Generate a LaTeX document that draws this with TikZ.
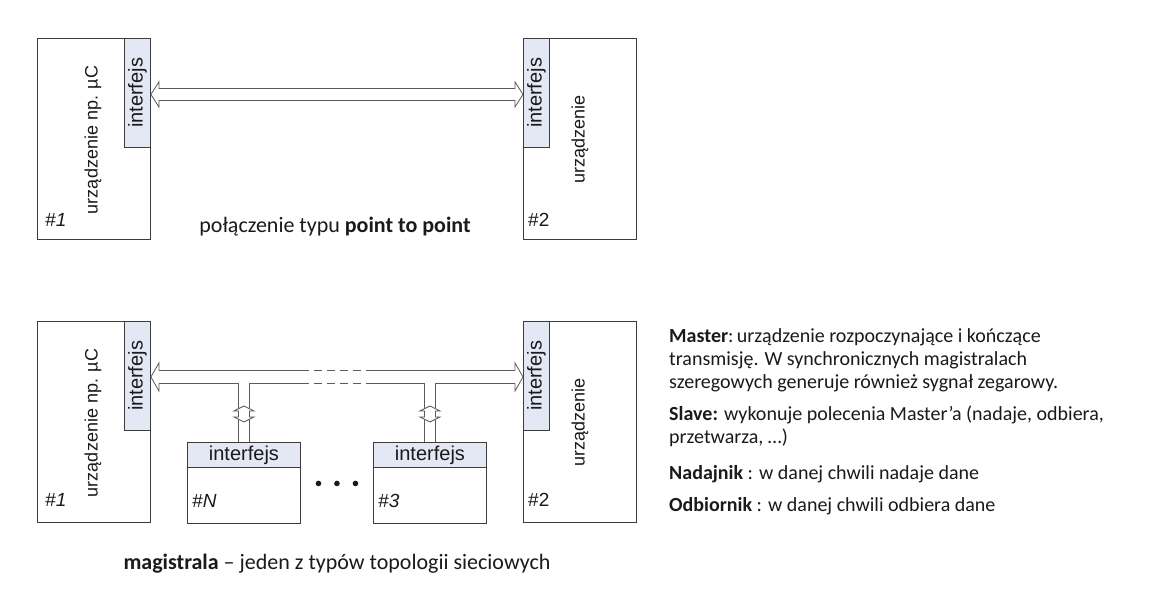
\documentclass[tikz,border=0pt]{standalone}
\usepackage{fontspec}
\setmainfont{Carlito}
\newfontfamily\arial{Liberation Sans}
\usetikzlibrary{calc}
\definecolor{ifcfill}{HTML}{E4E8F5}
\definecolor{linec}{HTML}{5A5A5A}
\definecolor{boxc}{HTML}{3C3C3C}
\definecolor{txtc}{HTML}{1A1A1A}
\begin{document}
\begin{tikzpicture}[x=1pt,y=-1pt,
  dev/.style={draw=boxc, line width=0.9pt, fill=white, anchor=north west, minimum width=113pt, minimum height=201pt, inner sep=0pt},
  ifcv/.style={draw=boxc, line width=0.9pt, fill=ifcfill, minimum width=26pt, minimum height=109pt, inner sep=0pt},
  slavebox/.style={draw=boxc, line width=0.9pt, fill=white, anchor=north west, minimum width=113pt, minimum height=81pt, inner sep=0pt},
  ifch/.style={draw=boxc, line width=0.9pt, fill=ifcfill, anchor=north, minimum width=113pt, minimum height=25pt, inner sep=0pt, font=\arial\fontsize{20}{22}\selectfont, text=txtc},
  ifctext/.style={rotate=90, font=\arial\fontsize{20}{22}\selectfont, text=txtc, inner sep=0pt},
  devtext/.style={rotate=90, font=\arial\fontsize{18}{20}\selectfont, text=txtc, inner sep=0pt},
  numtext/.style={anchor=base west, font=\arial\fontsize{19}{21}\selectfont, text=txtc, inner sep=0pt},
  arr/.style={draw=linec, line width=0.8pt, fill=white, line join=miter},
  busline/.style={draw=linec, line width=0.8pt},
  busdash/.style={draw=linec, line width=0.8pt, dash pattern=on 8pt off 5pt},
  caption/.style={font=\fontsize{22}{26}\selectfont, text=txtc, inner sep=0pt},
  desc/.style={anchor=base west, align=left, font=\fontsize{20}{23}\selectfont, text=txtc, inner sep=0pt},
]
\useasboundingbox (0,0) rectangle (1152,607);
\fill[white] (0,0) rectangle (1152,607);

% ---------------- top: point to point ----------------
\node[dev] (d1) at (37,38) {};
\node[ifcv, anchor=north east] (i1) at (d1.north east) {};
\node[ifctext] at (i1.center) {interfejs};
\node[devtext] at ($(d1.center)+(-1,1)$) {urządzenie np. µC};
\node[numtext] at ($(d1.south west)+(8,-13.5)$) {\itshape\#1};

\node[dev] (d2) at (523,38) {};
\node[ifcv, anchor=north west] (i2) at (d2.north west) {};
\node[ifctext] at (i2.center) {interfejs};
\node[devtext] at ($(d2.center)+(0,1)$) {urządzenie};
\node[numtext] at ($(d2.south west)+(5,-13.5)$) {\#2};

\coordinate (tl) at ($(i1.east)+(0,1.5)$);
\coordinate (tr) at ($(i2.west)+(0,1.5)$);
\draw[arr] (tl) -- ++(8,-12.5) -- ++(0,6.5) -- ($(tr)+(-8,-6)$) -- ++(0,-6.5) -- (tr)
  -- ++(-8,12.5) -- ++(0,-6.5) -- ($(tl)+(8,6)$) -- ++(0,6.5) -- cycle;

\node[caption] (cap1) at (335,227) {połączenie typu \textbf{point to point}};

% ---------------- bottom: bus ----------------
\node[dev] (d3) at (37,321) {};
\node[ifcv, anchor=north east] (i3) at (d3.north east) {};
\node[ifctext] at (i3.center) {interfejs};
\node[devtext] at ($(d3.center)+(-1,1)$) {urządzenie np. µC};
\node[numtext] at ($(d3.south west)+(8,-16.5)$) {\itshape\#1};

\node[dev] (d4) at (523,321) {};
\node[ifcv, anchor=north west] (i4) at (d4.north west) {};
\node[ifctext] at (i4.center) {interfejs};
\node[devtext] at ($(d4.center)+(0,1)$) {urządzenie};
\node[numtext] at ($(d4.south west)+(5,-16.5)$) {\#2};

\node[slavebox] (sN) at (187,442) {};
\node[ifch] (hN) at (sN.north) {interfejs};
\node[numtext] at ($(sN.south west)+(5,-16.5)$) {\itshape\#N};

\node[slavebox] (s3) at (373,442) {};
\node[ifch] (h3) at (s3.north) {interfejs};
\node[numtext] at ($(s3.south west)+(5,-16.5)$) {\itshape\#3};

% dots
\coordinate (mid) at ($(sN.center)!0.5!(s3.center)$);
\foreach \dx in {-18.5,0,18.5} \fill[txtc] ($(mid)+(\dx,0.5)$) circle (2.8pt);

% bus
\coordinate (bl) at ($(i3.east)+(0,1)$);
\coordinate (br) at ($(i4.west)+(0,1)$);
\coordinate (blt) at ($(bl)+(8,-6.5)$);
\coordinate (blb) at ($(bl)+(8,6.5)$);
\coordinate (brt) at ($(br)+(-8,-6.5)$);
\coordinate (brb) at ($(br)+(-8,6.5)$);
\coordinate (jN) at (hN.north);
\coordinate (j3) at (h3.north);
% arrow heads
\draw[arr, fill=none] (blt) -- ++(0,-7.5) -- (bl) -- ++(8,14) -- (blb);
\draw[arr, fill=none] (brt) -- ++(0,-7.5) -- (br) -- ++(-8,14) -- (brb);
% top line
\draw[busline] (blt) -- (blt -| sN.east);
\draw[busdash] (blt -| sN.east) -- (blt -| s3.west);
\draw[busline] (blt -| s3.west) -- (brt);
% bottom line
\draw[busline] (blb) -- ($(blb -| jN)+(-5.5,0)$);
\draw[busline] ($(blb -| jN)+(5.5,0)$) -- (blb -| sN.east);
\draw[busdash] (blb -| sN.east) -- (blb -| s3.west);
\draw[busline] (blb -| s3.west) -- ($(blb -| j3)+(-5.5,0)$);
\draw[busline] ($(blb -| j3)+(5.5,0)$) -- (brb);
% stems with bidirectional arrows
\foreach \j in {jN,j3} {
  \draw[busline] ($(blb -| \j)+(-5.5,0)$) -- ($(\j)+(-5.5,0)$);
  \draw[busline] ($(blb -| \j)+(5.5,0)$) -- ($(\j)+(5.5,0)$);
  \coordinate (tp) at ($(blb -| \j)+(0,22.5)$);
  \draw[arr] (tp) -- ++(10,5) -- ++(-4.5,0) -- ++(0,6) -- ++(4.5,0) -- ++(-10,5)
     -- ++(-10,-5) -- ++(4.5,0) -- ++(0,-6) -- ++(-4.5,0) -- cycle;
}

\node[caption] (cap2) at (337,564) {\textbf{magistrala} – jeden z typów topologii sieciowych};

% description (base anchor = baseline of last line)
\node[desc] (dm) at (669,388) {\textbf{Master}:\,urządzenie rozpoczynające i kończące\\transmisję. W synchronicznych magistralach\\szeregowych generuje również sygnał zegarowy.};
\node[desc] (ds) at (669,443) {\textbf{Slave:} wykonuje polecenia Master’a (nadaje, odbiera,\\przetwarza, …)};
\node[desc] (dn) at (669,479) {\textbf{Nadajnik} : w danej chwili nadaje dane};
\node[desc] (do) at (669,511) {\textbf{Odbiornik} : w danej chwili odbiera dane};
\end{tikzpicture}
\end{document}
